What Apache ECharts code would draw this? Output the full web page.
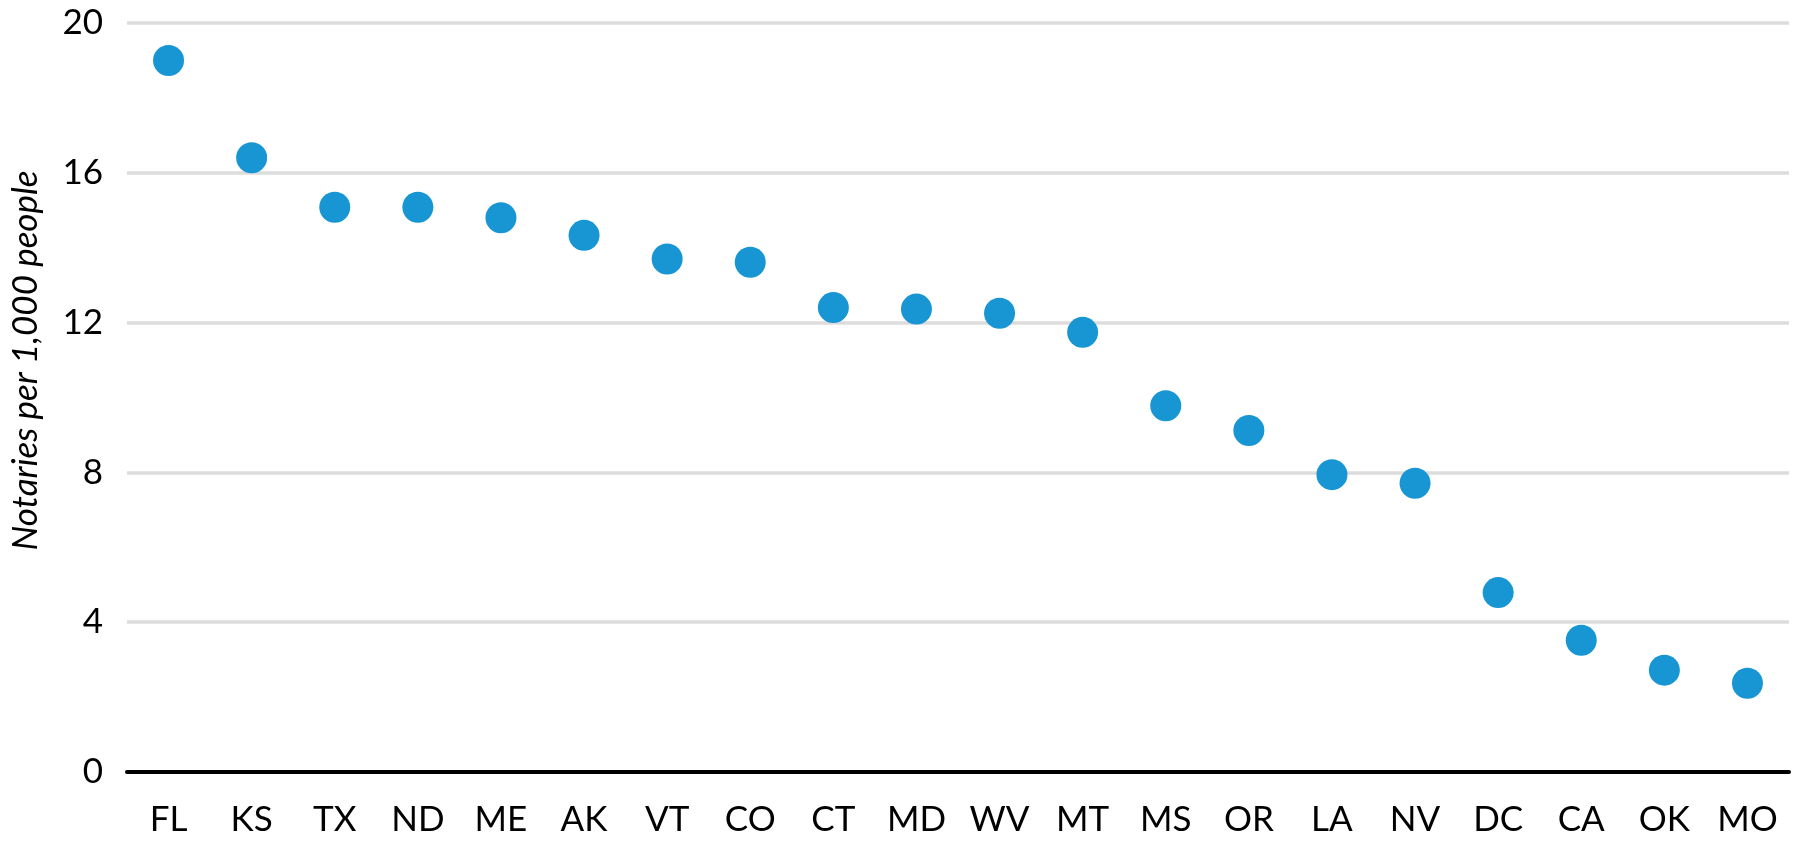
<!DOCTYPE html>
<html>
<head>
<meta charset="utf-8">
<script src="https://cdn.jsdelivr.net/npm/echarts@6/dist/echarts.min.js"></script>
<style>
html,body{margin:0;padding:0;background:#fff;}
#chart{width:1795px;height:842px;}
</style>
</head>
<body>
<div id="chart"></div>
<script>
const states = ['FL','KS','TX','ND','ME','AK','VT','CO','CT','MD','WV','MT','MS','OR','LA','NV','DC','CA','OK','MO'];
const notariesPer1000 = [19.0,16.4,15.08,15.08,14.8,14.33,13.7,13.61,12.4,12.36,12.25,11.74,9.78,9.12,7.94,7.71,4.79,3.52,2.72,2.37];
const yTicks = [0,4,8,12,16,20];

const chart = echarts.init(document.getElementById('chart'));
chart.setOption({
  animation: false,
  grid: {left: 124, right: 6, top: 23, bottom: 70, containLabel: false},
  xAxis: {
    type: 'category',
    data: states,
    boundaryGap: true,
    axisLine: {show: true, onZero: true, lineStyle: {color: '#000', width: 4}},
    axisTick: {show: false},
    axisLabel: {fontFamily: 'Lato', fontSize: 35, color: '#000', margin: 30, interval: 0},
    splitLine: {show: false}
  },
  yAxis: {
    type: 'value',
    min: yTicks[0],
    max: yTicks[yTicks.length - 1],
    interval: 4,
    name: 'Notaries per 1,000 people',
    nameLocation: 'middle',
    nameGap: 84,
    nameTextStyle: {fontFamily: 'Lato', fontSize: 35, fontStyle: 'italic', color: '#000', padding: [0, 0, 0, 74]},
    axisLine: {show: false},
    axisTick: {show: false},
    axisLabel: {fontFamily: 'Lato', fontSize: 35, color: '#000', margin: 24},
    splitLine: {show: true, lineStyle: {color: '#dcdcdc', width: 3.5}}
  },
  series: [{
    type: 'scatter',
    data: notariesPer1000,
    symbol: 'circle',
    symbolSize: 31,
    itemStyle: {color: '#1896d3', opacity: 1}
  }]
});
</script>
</body>
</html>
